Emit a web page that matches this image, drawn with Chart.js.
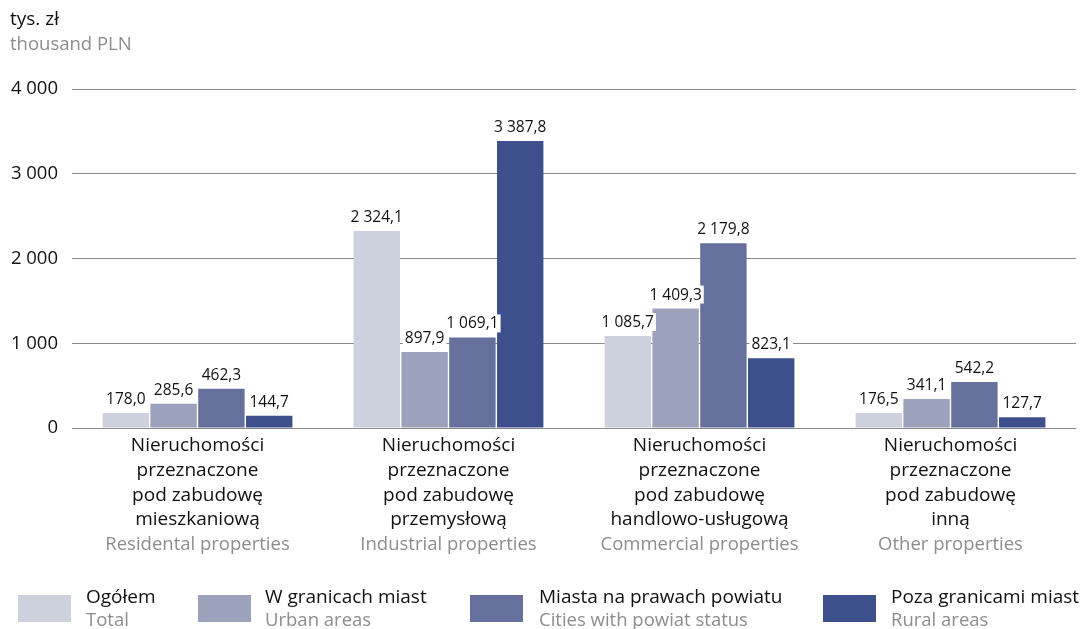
<!DOCTYPE html>
<html lang="pl">
<head>
<meta charset="utf-8">
<title>Średnia cena nieruchomości</title>
<script src="https://cdn.jsdelivr.net/npm/chart.js@4.4.1/dist/chart.umd.min.js"></script>
<style>
  html, body { margin: 0; padding: 0; background: #ffffff; }
  #wrap { position: relative; width: 1084px; height: 629px; }
  canvas { display: block; }
</style>
</head>
<body>
<div id="wrap"><canvas id="chart" width="1084" height="629"></canvas></div>
<script>
// Categories: Polish label lines and the English line below them
const categoriesPl = [
  ["Nieruchomości", "przeznaczone", "pod zabudowę", "mieszkaniową"],
  ["Nieruchomości", "przeznaczone", "pod zabudowę", "przemysłową"],
  ["Nieruchomości", "przeznaczone", "pod zabudowę", "handlowo-usługową"],
  ["Nieruchomości", "przeznaczone", "pod zabudowę", "inną"]
];
const categoriesEn = [
  "Residental properties",
  "Industrial properties",
  "Commercial properties",
  "Other properties"
];

// Series values, thousand PLN
const totalValues  = [178.0, 2324.1, 1085.7, 176.5];
const urbanValues  = [285.6, 897.9, 1409.3, 341.1];
const citiesValues = [462.3, 1069.1, 2179.8, 542.2];
const ruralValues  = [144.7, 3387.8, 823.1, 127.7];

// Series names (Polish / English)
const seriesPl = ["Ogółem", "W granicach miast", "Miasta na prawach powiatu", "Poza granicami miast"];
const seriesEn = ["Total", "Urban areas", "Cities with powiat status", "Rural areas"];
const seriesColors = ["#cdd1dd", "#9ca1bc", "#65719c", "#3e508b"];

// Y axis ticks
const yTicks = [0, 1000, 2000, 3000, 4000];

const FONT = "'Open Sans', 'Noto Sans', sans-serif";
const GREY_TEXT = "#8d8d8d";

function fmt(v, decimals) {
  const s = v.toFixed(decimals);
  const parts = s.split(".");
  const intPart = parts[0].replace(/\B(?=(\d{3})+(?!\d))/g, " ");
  return parts.length > 1 ? intPart + "," + parts[1] : intPart;
}

// Values above bars on a white patch
const valueLabels = {
  id: "valueLabels",
  afterDatasetsDraw(chart) {
    const ctx = chart.ctx;
    ctx.save();
    ctx.font = "15.5px " + FONT;
    ctx.textAlign = "center";
    ctx.textBaseline = "alphabetic";
    chart.data.datasets.forEach((ds, di) => {
      const meta = chart.getDatasetMeta(di);
      meta.data.forEach((bar, i) => {
        const txt = fmt(ds.data[i], 1);
        const w = ctx.measureText(txt).width;
        const base = bar.y - 9;
        ctx.fillStyle = "#ffffff";
        ctx.fillRect(bar.x - w / 2 - 2, base - 14, w + 4, 18);
        ctx.fillStyle = "#111111";
        ctx.fillText(txt, bar.x, base);
      });
    });
    ctx.restore();
  }
};

// Category labels, unit caption and legend
const decorations = {
  id: "decorations",
  afterDraw(chart) {
    const ctx = chart.ctx;
    const xs = chart.scales.x;
    ctx.save();
    ctx.textAlign = "center";
    ctx.textBaseline = "middle";
    categoriesPl.forEach((lines, i) => {
      const x = xs.getPixelForValue(i);
      ctx.font = "19px " + FONT;
      ctx.fillStyle = "#111111";
      lines.forEach((ln, k) => ctx.fillText(ln, x, 446 + k * 24.6));
      ctx.font = "18.5px " + FONT;
      ctx.fillStyle = GREY_TEXT;
      ctx.fillText(categoriesEn[i], x, 446 + 4 * 24.6);
    });

    ctx.textAlign = "left";
    ctx.font = "19px " + FONT;
    ctx.fillStyle = "#111111";
    ctx.fillText("tys. zł", 10, 20);
    ctx.font = "18.5px " + FONT;
    ctx.fillStyle = GREY_TEXT;
    ctx.fillText("thousand PLN", 10, 45);

    const boxX = [18, 198, 470, 823];
    const textX = [86, 265, 539, 891];
    chart.data.datasets.forEach((ds, i) => {
      ctx.fillStyle = ds.backgroundColor;
      ctx.fillRect(boxX[i], 595, 53, 27);
      ctx.font = "19px " + FONT;
      ctx.fillStyle = "#111111";
      ctx.fillText(seriesPl[i], textX[i], 598);
      ctx.font = "18.5px " + FONT;
      ctx.fillStyle = GREY_TEXT;
      ctx.fillText(seriesEn[i], textX[i], 621);
    });
    ctx.restore();
  }
};

const datasets = [totalValues, urbanValues, citiesValues, ruralValues].map((vals, i) => ({
  label: seriesPl[i],
  data: vals,
  backgroundColor: seriesColors[i],
  borderWidth: 0,
  categoryPercentage: 0.762,
  barPercentage: 0.97
}));

new Chart(document.getElementById("chart"), {
  type: "bar",
  data: { labels: categoriesEn, datasets },
  options: {
    responsive: false,
    animation: false,
    events: [],
    layout: { padding: { top: 89, right: 8, left: 0, bottom: 0 } },
    plugins: { legend: { display: false }, tooltip: { enabled: false } },
    scales: {
      x: {
        grid: { display: false },
        border: { display: false },
        ticks: { display: false },
        // room below the plot for category labels and legend
        afterFit(scale) { scale.height = 201; }
      },
      y: {
        min: 0,
        max: 4000,
        afterBuildTicks(scale) { scale.ticks = yTicks.map(v => ({ value: v })); },
        grid: { color: "#8a8a8a", lineWidth: 1, drawTicks: false },
        border: { display: false },
        ticks: {
          padding: 14,
          color: "#111111",
          font: { family: FONT, size: 18.5 },
          callback: v => fmt(v, 0)
        },
        afterFit(scale) { scale.width = 72; }
      }
    }
  },
  plugins: [valueLabels, decorations]
});
</script>
</body>
</html>
